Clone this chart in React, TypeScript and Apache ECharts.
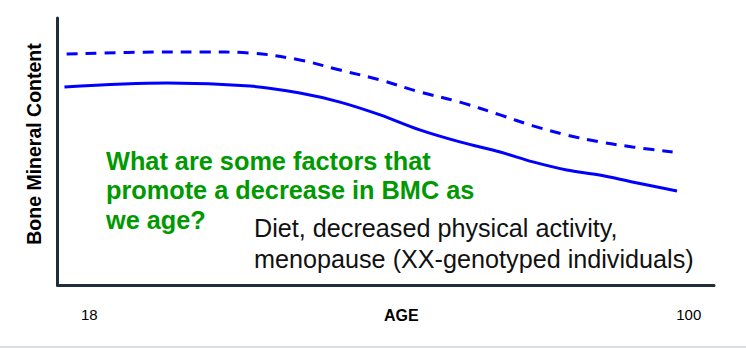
import React, { useEffect, useRef } from "react";
import * as echarts from "echarts";

const xTickValues = [18, 100];
const ageSolid = [14.6, 28.7, 40.0, 46.8, 52.3, 57.8, 63.2, 68.7, 74.2, 78.7, 83.3, 87.8, 92.3, 98.4];
const bmcSolid = [74.2, 75.7, 74.5, 71.9, 68.5, 63.7, 58.1, 53.6, 49.8, 46.1, 43.1, 41.2, 38.6, 35.2];
const ageDashed = [14.9, 28.7, 33.2, 40.0, 46.8, 52.3, 57.8, 63.2, 68.7, 74.2, 78.7, 83.3, 87.8, 92.3, 97.8];
const bmcDashed = [86.5, 87.3, 87.3, 86.9, 84.3, 80.5, 76.8, 72.3, 68.5, 63.7, 59.6, 56.2, 53.6, 51.7, 49.8];
const questionLines = ["What are some factors that", "promote a decrease in BMC as", "we age?"];
const answerLines = ["Diet, decreased physical activity,", "menopause (XX-genotyped individuals)"];

const FONT = "Arial, 'Liberation Sans', Helvetica, sans-serif";
const AXIS_COLOR = "#1f2d3d";

export default function App() {
  const ref = useRef<HTMLDivElement>(null);
  useEffect(() => {
    if (!ref.current) return;
    const chart = echarts.init(ref.current, undefined, { renderer: "svg" });
    const solid = ageSolid.map((a, i) => [a, bmcSolid[i]]);
    const dashed = ageDashed.map((a, i) => [a, bmcDashed[i]]);
    chart.setOption({
      animation: false,
      backgroundColor: "#ffffff",
      grid: { left: 57.5, right: 32, top: 18, bottom: 63, containLabel: false },
      xAxis: {
        type: "value",
        min: 13.65,
        max: 103.46,
        name: "AGE",
        nameLocation: "middle",
        nameGap: 22,
        nameMoveOverlap: false,
        nameTextStyle: {
          fontFamily: FONT,
          fontWeight: "bold",
          fontSize: 16,
          color: "#000",
          padding: [0, 0, 0, 31],
        },
        axisLine: { show: true, lineStyle: { color: AXIS_COLOR, width: 3 } },
        axisTick: { show: false },
        splitLine: { show: false },
        axisLabel: {
          customValues: xTickValues,
          margin: 22,
          fontFamily: FONT,
          fontSize: 15,
          color: "#000",
        },
      },
      yAxis: {
        type: "value",
        min: 0,
        max: 100,
        name: "Bone Mineral Content",
        nameLocation: "middle",
        nameGap: 14,
        nameMoveOverlap: false,
        nameTextStyle: {
          fontFamily: FONT,
          fontWeight: "bold",
          fontSize: 19.5,
          color: "#000",
          padding: [0, 0, 0, 15],
        },
        axisLine: { show: true, lineStyle: { color: AXIS_COLOR, width: 3 } },
        axisTick: { show: false },
        splitLine: { show: false },
        axisLabel: { show: false },
      },
      series: [
        {
          type: "line",
          data: dashed,
          smooth: 0.35,
          showSymbol: false,
          lineStyle: { color: "#0000ff", width: 3, type: [11, 8] },
        },
        {
          type: "line",
          data: solid,
          smooth: 0.35,
          showSymbol: false,
          lineStyle: { color: "#0000ff", width: 3 },
        },
      ],
      graphic: [
        ...questionLines.map((t, i) => ({
          type: "text",
          left: 106,
          top: 148 + i * 29.5,
          style: {
            text: t,
            fill: "#009900",
            font: `bold 25.3px ${FONT}`,
          },
        })),
        ...answerLines.map((t, i) => ({
          type: "text",
          left: 254,
          top: 215 + i * 31.5,
          style: {
            text: t,
            fill: "#111111",
            font: `25.2px ${FONT}`,
          },
        })),
        {
          type: "line",
          shape: { x1: 0, y1: 347, x2: 746, y2: 347 },
          style: { stroke: "#b8bec4", lineWidth: 1 },
        },
      ],
    });
    return () => chart.dispose();
  }, []);
  return (
    <div
      ref={ref}
      style={{ position: "fixed", left: 0, top: 0, width: 746, height: 348 }}
    />
  );
}
